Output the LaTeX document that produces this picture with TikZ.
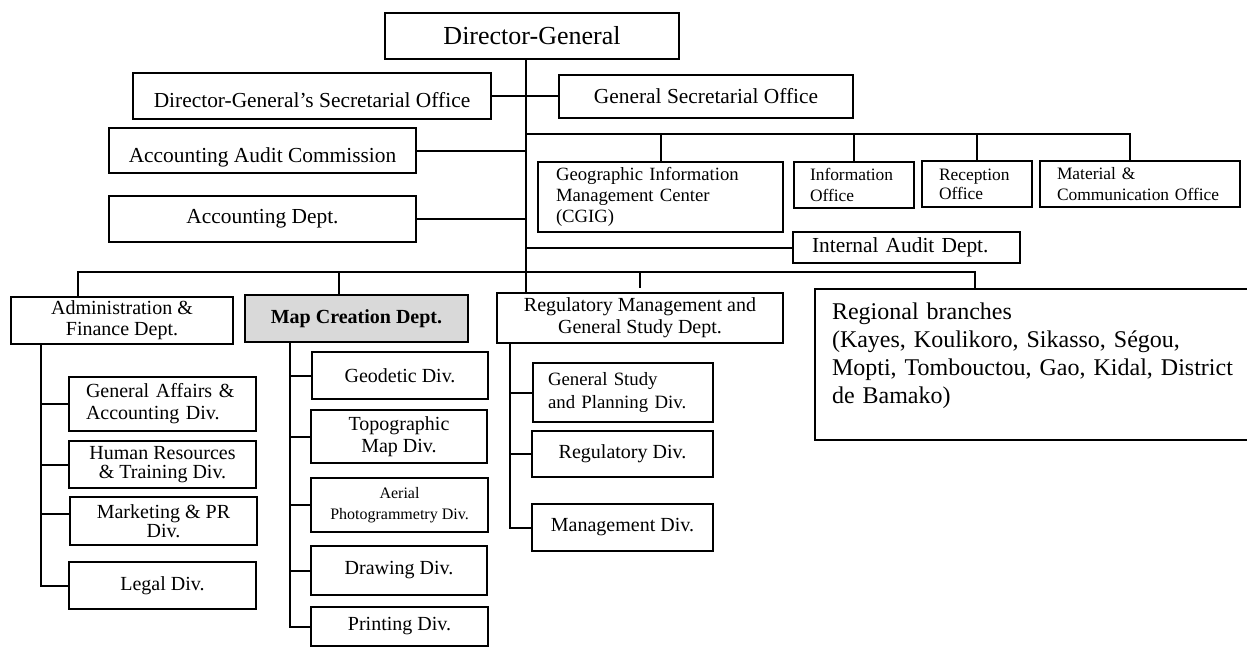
\documentclass[tikz,border=0pt]{standalone}
\usepackage{fontspec}
\setmainfont{Liberation Serif}
\newcommand\fsz[2]{\fontsize{#1}{#2}\selectfont}
\begin{document}
\begin{tikzpicture}[x=1pt,y=-1pt,
  conn/.style={draw,line width=2pt},
  box/.style={draw,line width=2pt,inner sep=0pt,align=center,fill=white},
  lbox/.style={draw,line width=2pt,inner ysep=0pt,align=left,fill=white},
  big/.style={font=\fsz{21.4}{25}},
  mid/.style={font=\fsz{20}{22}}]
\useasboundingbox (0,0) rectangle (1247,648);
% top level
\node[box,minimum width=294pt,minimum height=46pt,font=\fsz{26}{30}] (dg) at (532,36) {Director-General};
\node[box,big,minimum width=358pt,minimum height=46pt,text height=26.7pt,text depth=4.7pt] (dgso) at (312,96) {Director-General’s Secretarial Office};
\node[box,big,minimum width=294pt,minimum height=43pt] (gso) at (706,96) {General Secretarial Office};
\node[box,big,minimum width=307pt,minimum height=45pt,text height=28.7pt,text depth=4.7pt] (aac) at (262.5,150.5) {Accounting Audit Commission};
\node[box,big,minimum width=307pt,minimum height=46pt] (accd) at (262.5,219) {Accounting Dept.};
% offices row
\node[lbox,inner xsep=18pt,text width=209pt,minimum height=70pt,font=\fsz{18.7}{21}] (cgig) at (660.5,197) {Geographic Information\\Management Center\\(CGIG)};
\node[lbox,inner xsep=16pt,text width=88pt,minimum height=46pt,font=\fsz{17.4}{21}] (info) at (854,185) {Information\\Office};
\node[lbox,inner xsep=17pt,text width=76pt,minimum height=46pt,font=\fsz{17.4}{19}] (recep) at (977,184) {Reception\\Office};
\node[lbox,inner xsep=17pt,text width=166pt,minimum height=46pt,font=\fsz{17.4}{21}] (mat) at (1140,184) {Material \&\\Communication Office};
\node[lbox,big,inner xsep=19pt,text width=189pt,minimum height=31pt] (intaud) at (906.5,247.5) {Internal Audit Dept.};
% departments
\node[box,minimum width=222pt,minimum height=47pt,font=\fsz{20}{21}] (admin) at (122,320.5) {Administration \&\\Finance Dept.};
\node[box,minimum width=223pt,minimum height=47pt,fill=black!15,font=\fsz{20}{22}\bfseries] (map) at (356.5,318.5) {Map Creation Dept.};
\node[box,mid,minimum width=286pt,minimum height=50pt] (reg) at (640,318) {Regulatory Management and\\General Study Dept.};
\node[lbox,inner xsep=17pt,text width=413pt,minimum height=151pt,font=\fsz{24}{28}] (regional) at (1038.5,364.5) {Regional branches\\(Kayes, Koulikoro, Sikasso, Ségou,\\Mopti, Tombouctou, Gao, Kidal, District\\de Bamako)\\[-5pt]\mbox{}};
% admin divisions
\node[lbox,inner xsep=17pt,text width=153pt,minimum height=54pt,mid] (genaff) at (162.5,404) {General Affairs \&\\Accounting Div.};
\node[box,minimum width=187pt,minimum height=47pt,font=\fsz{20}{19}] (hr) at (162.5,464.5) {Human Resources\\\& Training Div.};
\node[box,minimum width=187pt,minimum height=48pt,font=\fsz{20}{19}] (mkt) at (163.5,521) {Marketing \& PR\\Div.};
\node[box,mid,minimum width=187pt,minimum height=47pt] (legal) at (162.5,585.5) {Legal Div.};
% map divisions
\node[box,mid,minimum width=176pt,minimum height=47pt] (geod) at (400,375.5) {Geodetic Div.};
\node[box,mid,minimum width=176pt,minimum height=53pt] (topo) at (399,436.5) {Topographic\\Map Div.};
\node[box,minimum width=177pt,minimum height=54pt,font=\fsz{16}{21}] (aerial) at (399.5,505) {Aerial\\Photogrammetry Div.};
\node[box,mid,minimum width=176pt,minimum height=49pt] (drawd) at (399,570.5) {Drawing Div.};
\node[box,mid,minimum width=177pt,minimum height=39pt] (print) at (399.5,626.5) {Printing Div.};
% regulatory divisions
\node[lbox,inner xsep=15pt,text width=150pt,minimum height=59pt,font=\fsz{18.8}{23}] (genst) at (623,392.5) {General Study\\and Planning Div.};
\node[box,mid,minimum width=181pt,minimum height=46pt] (regdiv) at (622.5,454) {Regulatory Div.};
\node[box,mid,minimum width=181pt,minimum height=47pt] (mgmt) at (622.5,527.5) {Management Div.};
% connectors
\coordinate (tk) at ([xshift=-6pt]dg.south);
\draw[conn] (tk) -- (tk |- reg.north);
\draw[conn] (dgso.east) -- (gso.west);
\draw[conn] (aac.east) -- (aac.east -| tk);
\draw[conn] (accd.east) -- (accd.east -| tk);
\coordinate (obR) at (1130,134);
\draw[conn] (tk |- obR) -- (obR) -- (obR |- mat.north);
\draw[conn] (cgig.north) -- (cgig.north |- obR);
\draw[conn] (info.north) -- (info.north |- obR);
\draw[conn] (recep.north) -- (recep.north |- obR);
\draw[conn] (intaud.west) -- (intaud.west -| tk);
\coordinate (dbL) at (78,272);
\coordinate (dbR) at (975,272);
\draw[conn] (admin.north -| dbL) -- (dbL) -- (dbR) -- (dbR |- regional.north);
\coordinate (mapdrop) at (339,272);
\draw[conn] (mapdrop) -- (mapdrop |- map.north);
\draw[conn] (reg.north |- dbL) -- ([yshift=4pt]reg.north);
% admin sub-trunk
\coordinate (at) at ([xshift=-81pt]admin.south);
\coordinate (mktc) at ([yshift=7pt]mkt.west);
\draw[conn] (at) -- (at |- legal.west) -- (legal.west);
\draw[conn] (at |- genaff.west) -- (genaff.west);
\draw[conn] (at |- hr.west) -- (hr.west);
\draw[conn] (at |- mktc) -- (mktc);
% map sub-trunk
\coordinate (mt) at ([xshift=-66.5pt]map.south);
\draw[conn] (mt) -- (mt |- print.west) -- (print.west);
\draw[conn] (mt |- geod.west) -- (geod.west);
\draw[conn] (mt |- topo.west) -- (topo.west);
\draw[conn] (mt |- aerial.west) -- (aerial.west);
\draw[conn] (mt |- drawd.west) -- (drawd.west);
% regulatory sub-trunk
\coordinate (rt) at ([xshift=-130pt]reg.south);
\draw[conn] (rt) -- (rt |- mgmt.west) -- (mgmt.west);
\draw[conn] (rt |- genst.west) -- (genst.west);
\draw[conn] (rt |- regdiv.west) -- (regdiv.west);
\end{tikzpicture}
\end{document}
